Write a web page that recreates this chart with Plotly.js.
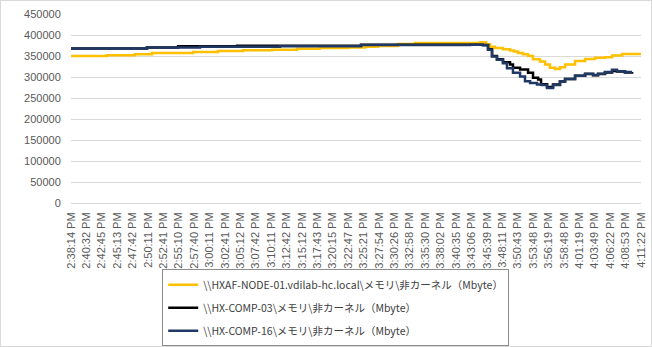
<!DOCTYPE html>
<html>
<head>
<meta charset="utf-8">
<script src="https://cdn.plot.ly/plotly-3.0.1.min.js"></script>
<style>
html,body{margin:0;padding:0;background:#fff;}
#chart{width:650px;height:345px;border:1px solid #d9d9d9;}
</style>
</head>
<body>
<div id="chart"></div>
<script>
// Tick labels (category axis of sample times)
const tickLabels = ["2:38:14 PM","2:40:32 PM","2:42:45 PM","2:45:13 PM","2:47:42 PM","2:50:11 PM","2:52:41 PM","2:55:10 PM","2:57:40 PM","3:00:11 PM","3:02:41 PM","3:05:12 PM","3:07:42 PM","3:10:11 PM","3:12:42 PM","3:15:12 PM","3:17:43 PM","3:20:15 PM","3:22:47 PM","3:25:21 PM","3:27:54 PM","3:30:26 PM","3:32:58 PM","3:35:30 PM","3:38:02 PM","3:40:35 PM","3:43:06 PM","3:45:39 PM","3:48:11 PM","3:50:43 PM","3:53:48 PM","3:56:19 PM","3:58:48 PM","4:01:19 PM","4:03:49 PM","4:06:22 PM","4:08:53 PM","4:11:22 PM"];
const tickPos = tickLabels.map((_, i) => i);

const seriesNames = [
  "\\\\HXAF-NODE-01.vdilab-hc.local\\メモリ\\非カーネル（Mbyte）",
  "\\\\HX-COMP-03\\メモリ\\非カーネル（Mbyte）",
  "\\\\HX-COMP-16\\メモリ\\非カーネル（Mbyte）"
];

// Positions along the time axis (in tick-label units) and values (Mbyte)
const node01X = [0,2.34,4.15,5.26,7.92,9.54,11.17,13.05,14.67,16.16,17.98,19.08,19.93,21.23,22.33,25.90,26.55,26.94,27.20,27.52,28.04,28.50,28.76,29.02,29.34,29.67,29.99,30.44,30.77,31.09,31.42,31.74,32.07,32.72,33.37,34.02,34.66,35.12,35.77,37.00];
const node01Y = [350000,351500,354000,357000,359500,362000,363500,365000,367000,369000,370000,372000,374000,378500,381000,381000,383000,378000,372000,369000,366000,363000,361000,357000,354000,350000,342000,337000,330000,322000,319000,323000,330000,338000,343000,346000,347000,351000,354500,355000];

const comp03X = [0,4.93,6.95,10.78,18.83,25.90,26.74,27.07,27.33,27.65,28.04,28.50,28.69,29.15,29.67,29.99,30.32,30.51,30.90,31.29,31.74,32.07,32.72,33.37,33.89,34.21,34.66,35.12,35.44,35.96,36.42];
const comp03Y = [368000,370500,373000,374500,376500,377000,376000,366000,350000,342000,335000,330000,322000,318000,310000,298000,294000,283000,276000,282000,289000,295000,303000,307000,304000,307000,311000,314000,313000,311000,312000];

const comp16X = [0,4.93,8.37,13.57,18.83,25.90,26.74,27.07,27.33,27.65,28.04,28.30,28.69,29.15,29.47,29.80,30.25,30.57,30.90,31.29,31.74,32.07,32.72,33.37,33.89,34.21,34.66,35.12,35.44,35.96,36.42];
const comp16Y = [368000,370500,372000,373500,376000,377000,375500,365000,349000,341000,333000,321000,310000,301000,290000,286000,282000,281000,274000,281000,289000,295000,303000,307500,304500,307500,312000,317500,313500,312000,312000];

const colors = ["#FFC000", "#000000", "#203864"];
const xs = [node01X, comp03X, comp16X];
const ys = [node01Y, comp03Y, comp16Y];

const traces = seriesNames.map((n, i) => ({
  type: "scatter",
  mode: "lines",
  name: n,
  legendgroup: "g" + i,
  x: xs[i],
  y: ys[i],
  line: {color: colors[i], width: 2.5, shape: "hv"}
}));

const layout = {
  width: 650,
  height: 345,
  margin: {l: 70, r: 10, t: 13, b: 143, autoexpand: false},
  paper_bgcolor: "#ffffff",
  plot_bgcolor: "#ffffff",
  font: {family: "Liberation Sans, Arial, sans-serif", color: "#595959", size: 11},
  showlegend: true,
  legend: {
    x: 0.16, y: -0.35, xanchor: "left", yanchor: "top",
    bordercolor: "#8c8c8c", borderwidth: 1, bgcolor: "#ffffff",
    font: {family: "Noto Sans CJK JP, sans-serif", size: 10.5, color: "#404040"},
    itemwidth: 30,
    tracegroupgap: 4
  },
  xaxis: {
    automargin: false,
    range: [0, 37],
    tickmode: "array",
    tickvals: tickPos,
    ticktext: tickLabels,
    tickangle: -90,
    showgrid: false,
    zeroline: false,
    showline: true,
    linecolor: "#d9d9d9",
    ticks: "outside",
    ticklen: 4,
    tickcolor: "rgba(0,0,0,0)",
    tickfont: {size: 11, color: "#595959"},
    fixedrange: true
  },
  yaxis: {
    automargin: false,
    range: [0, 450000],
    tickmode: "linear",
    tick0: 0,
    dtick: 50000,
    tickformat: "d",
    showgrid: true,
    gridcolor: "#d9d9d9",
    gridwidth: 1,
    zeroline: false,
    showline: false,
    ticks: "outside",
    ticklen: 7,
    tickcolor: "rgba(0,0,0,0)",
    tickfont: {size: 11, color: "#595959"},
    fixedrange: true
  }
};

Plotly.newPlot("chart", traces, layout, {displayModeBar: false, staticPlot: true});
</script>
</body>
</html>
